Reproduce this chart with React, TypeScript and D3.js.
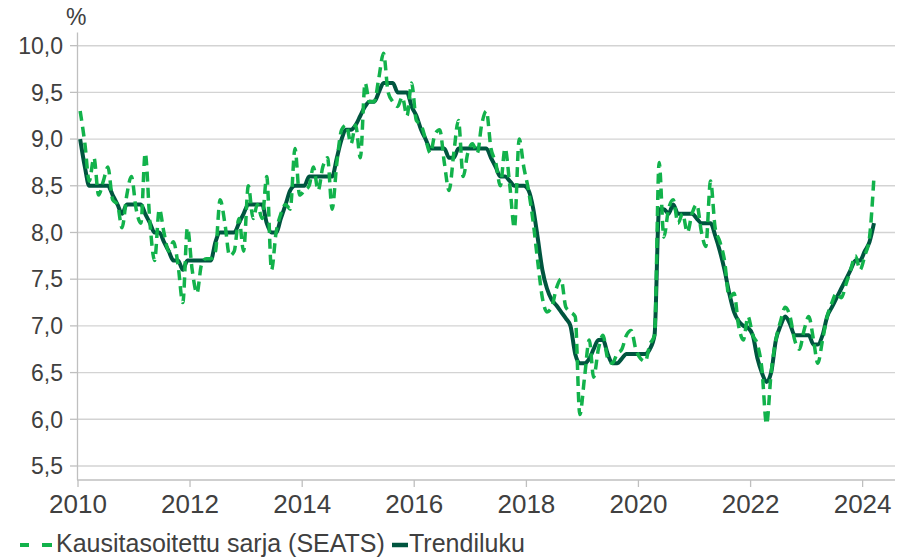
import * as d3 from 'd3';

const WIDTH = 912;
const HEIGHT = 558;
const START_YEAR = 2010;

// Kausitasoitettu sarja (SEATS), monthly values from Jan 2010, %
const SEATS = [
  /* 2010 */ 9.3, 8.95, 8.55, 8.8, 8.4, 8.55, 8.7, 8.35, 8.3, 8.05, 8.4, 8.6,
  /* 2011 */ 8.25, 8.1, 8.85, 8.1, 7.7, 8.25, 8.0, 7.8, 7.9, 7.65, 7.25, 8.05,
  /* 2012 */ 7.6, 7.35, 7.65, 7.72, 7.72, 7.8, 8.35, 8.1, 7.75, 7.8, 8.15, 7.8,
  /* 2013 */ 8.5, 8.15, 8.3, 8.15, 8.6, 7.6, 8.0, 8.2, 8.3, 8.25, 8.9, 8.4,
  /* 2014 */ 8.45, 8.5, 8.7, 8.45, 8.7, 8.8, 8.25, 8.75, 9.1, 9.15, 8.95, 9.15,
  /* 2015 */ 8.8, 9.6, 9.4, 9.4, 9.65, 9.92, 9.5, 9.4, 9.35, 9.45, 9.25, 9.6,
  /* 2016 */ 9.2, 9.15, 9.0, 8.85, 9.05, 9.1, 8.75, 8.45, 8.85, 9.2, 8.6, 8.85,
  /* 2017 */ 8.95, 8.85, 9.15, 9.3, 8.9, 8.75, 8.5, 8.9, 8.5, 8.05, 9.0, 8.7,
  /* 2018 */ 8.45, 8.1, 7.7, 7.3, 7.15, 7.2, 7.4, 7.5, 7.2, 7.15, 7.1, 6.05,
  /* 2019 */ 6.45, 6.85, 6.45, 6.75, 6.9, 6.65, 6.6, 6.7, 6.75, 6.9, 6.95, 6.75,
  /* 2020 */ 6.65, 6.62, 6.8, 6.9, 8.75, 7.95, 8.25, 8.35, 8.1, 8.2, 8.0, 8.2,
  /* 2021 */ 8.3, 8.0, 7.85, 8.55, 8.05, 7.9, 7.7, 7.3, 7.35, 7.0, 6.85, 7.1,
  /* 2022 */ 6.9, 6.8, 6.55, 5.95, 6.5, 6.85, 7.05, 7.2, 7.1, 6.85, 6.75, 6.95,
  /* 2023 */ 7.1, 6.85, 6.6, 6.85, 7.1, 7.25, 7.35, 7.3, 7.45, 7.6, 7.75, 7.6,
  /* 2024 */ 7.75, 7.95, 8.6,
];

// Trendiluku, monthly values from Jan 2010, %
const TREND = [
  /* 2010 */ 9.0, 8.7, 8.5, 8.5, 8.5, 8.5, 8.5, 8.4, 8.3, 8.2, 8.3, 8.3,
  /* 2011 */ 8.3, 8.3, 8.2, 8.1, 8.0, 8.0, 7.9, 7.8, 7.7, 7.7, 7.6, 7.7,
  /* 2012 */ 7.7, 7.7, 7.7, 7.7, 7.7, 7.9, 8.0, 8.0, 8.0, 8.0, 8.1, 8.2,
  /* 2013 */ 8.3, 8.3, 8.3, 8.3, 8.1, 8.0, 8.0, 8.15, 8.3, 8.45, 8.5, 8.5,
  /* 2014 */ 8.5, 8.6, 8.6, 8.6, 8.6, 8.6, 8.6, 8.8, 9.0, 9.1, 9.1, 9.15,
  /* 2015 */ 9.25, 9.35, 9.4, 9.4, 9.5, 9.6, 9.6, 9.6, 9.5, 9.5, 9.5, 9.35,
  /* 2016 */ 9.25, 9.1, 9.0, 8.9, 8.9, 8.9, 8.9, 8.8, 8.8, 8.9, 8.9, 8.9,
  /* 2017 */ 8.9, 8.9, 8.9, 8.9, 8.8, 8.7, 8.6, 8.6, 8.55, 8.5, 8.5, 8.5,
  /* 2018 */ 8.45, 8.25, 7.95, 7.6, 7.4, 7.28, 7.22, 7.15, 7.08, 7.0, 6.7, 6.6,
  /* 2019 */ 6.6, 6.65, 6.75, 6.85, 6.85, 6.7, 6.6, 6.6, 6.65, 6.7, 6.7, 6.7,
  /* 2020 */ 6.7, 6.7, 6.75, 6.9, 8.25, 8.25, 8.2, 8.3, 8.2, 8.2, 8.2, 8.2,
  /* 2021 */ 8.15, 8.1, 8.1, 8.1, 7.97, 7.8, 7.6, 7.35, 7.15, 7.05, 7.0, 6.98,
  /* 2022 */ 6.9, 6.65, 6.5, 6.4, 6.5, 6.85, 7.0, 7.1, 7.02, 6.9, 6.9, 6.9,
  /* 2023 */ 6.9, 6.8, 6.8, 6.9, 7.1, 7.2, 7.3, 7.4, 7.5, 7.6, 7.7, 7.7,
  /* 2024 */ 7.8, 7.9, 8.1,
];

const Y_TICKS = [5.5, 6.0, 6.5, 7.0, 7.5, 8.0, 8.5, 9.0, 9.5, 10.0];
const X_TICK_YEARS = [2010, 2012, 2014, 2016, 2018, 2020, 2022, 2024];

const SEATS_COLOR = '#12b24b';
const TREND_COLOR = '#00553f';
const TEXT_COLOR = '#404040';
const AXIS_COLOR = '#bfbfbf';
const GRID_COLOR = '#d3d3d3';
const FONT = '"Liberation Sans", Arial, Helvetica, sans-serif';

const PLOT = { left: 78, right: 895, top: 32.6, bottom: 480 };

export default function App() {
  const x = d3
    .scaleTime()
    .domain([new Date(2010, 0, 1), new Date(2024, 6, 30)])
    .range([PLOT.left, PLOT.right]);
  const y = d3.scaleLinear().domain([5.35, 10.14]).range([PLOT.bottom, PLOT.top]);

  // each monthly value sits at mid-month
  const monthDate = (i: number) => new Date(START_YEAR, i, 15);

  const line = d3
    .line<number>()
    .x((_, i) => x(monthDate(i)))
    .y((d) => y(d))
    .curve(d3.curveMonotoneX);

  const fmt = (v: number) => v.toFixed(1).replace('.', ',');

  return (
    <svg
      width={WIDTH}
      height={HEIGHT}
      viewBox={`0 0 ${WIDTH} ${HEIGHT}`}
      style={{ position: 'absolute', left: 0, top: 0, display: 'block', background: '#ffffff' }}
      fontFamily={FONT}
    >
      {/* grid */}
      {Y_TICKS.map((t) => (
        <line
          key={`g${t}`}
          x1={PLOT.left}
          x2={PLOT.right}
          y1={y(t)}
          y2={y(t)}
          stroke={GRID_COLOR}
          strokeWidth={1.4}
        />
      ))}

      {/* y axis */}
      <line x1={PLOT.left - 0.5} x2={PLOT.left - 0.5} y1={PLOT.top} y2={PLOT.bottom} stroke={AXIS_COLOR} strokeWidth={1.3} />
      {Y_TICKS.map((t) => (
        <g key={`y${t}`} transform={`translate(0, ${y(t)})`}>
          <line x1={70} x2={PLOT.left} stroke={AXIS_COLOR} strokeWidth={1.3} />
          <text x={63} dy="0.36em" textAnchor="end" fontSize={23} fill={TEXT_COLOR}>
            {fmt(t)}
          </text>
        </g>
      ))}
      <text x={66} y={25} fontSize={23} fill={TEXT_COLOR}>
        %
      </text>

      {/* x axis */}
      <line x1={PLOT.left - 1} x2={PLOT.right} y1={PLOT.bottom} y2={PLOT.bottom} stroke={AXIS_COLOR} strokeWidth={1.3} />
      {X_TICK_YEARS.map((yr) => {
        const px = x(new Date(yr, 0, 1));
        return (
          <g key={`x${yr}`} transform={`translate(${px}, 0)`}>
            <line y1={PLOT.bottom} y2={PLOT.bottom + 7} stroke={AXIS_COLOR} strokeWidth={1.3} />
            <text y={513} textAnchor="middle" fontSize={26} fill={TEXT_COLOR}>
              {yr}
            </text>
          </g>
        );
      })}

      {/* series: trend underneath, dashed SEATS on top */}
      <path d={line(TREND) ?? ''} fill="none" stroke={TREND_COLOR} strokeWidth={4} strokeLinejoin="round" />
      <path
        d={line(SEATS) ?? ''}
        fill="none"
        stroke={SEATS_COLOR}
        strokeWidth={3.5}
        strokeDasharray="10 6"
      />

      {/* legend */}
      <g>
        <line x1={20} x2={29} y1={545} y2={545} stroke={SEATS_COLOR} strokeWidth={4} />
        <line x1={42} x2={52} y1={545} y2={545} stroke={SEATS_COLOR} strokeWidth={4} />
        <text x={56} y={552} fontSize={25} fill={TEXT_COLOR}>
          Kausitasoitettu sarja (SEATS)
        </text>
        <line x1={392} x2={408} y1={545} y2={545} stroke={TREND_COLOR} strokeWidth={4.5} />
        <text x={409} y={552} fontSize={25} fill={TEXT_COLOR}>
          Trendiluku
        </text>
      </g>
    </svg>
  );
}
